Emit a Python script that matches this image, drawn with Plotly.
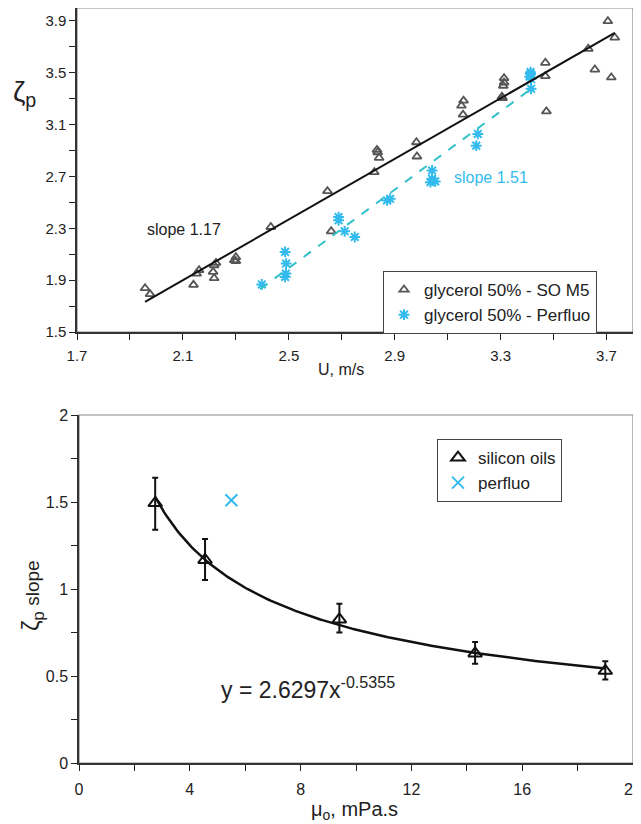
import numpy as np
import plotly.graph_objects as go

# ---------------- data (top panel) ----------------
so_u = [1.957, 1.976, 2.140, 2.152, 2.161, 2.214, 2.218, 2.218, 2.225, 2.294, 2.300, 2.300,
        2.432, 2.646, 2.660, 2.823, 2.833, 2.836, 2.841, 2.982, 2.984, 3.152, 3.158, 3.160,
        3.305, 3.307, 3.310, 3.313, 3.313, 3.469, 3.469, 3.473, 3.631, 3.656, 3.705, 3.718, 3.731]
so_zeta = [1.838, 1.792, 1.864, 1.950, 1.977, 1.964, 1.915, 2.015, 2.033, 2.054, 2.047, 2.077,
           2.310, 2.587, 2.277, 2.733, 2.905, 2.887, 2.844, 2.964, 2.854, 3.246, 3.177, 3.285,
           3.315, 3.305, 3.400, 3.425, 3.459, 3.577, 3.474, 3.202, 3.685, 3.525, 3.898, 3.464, 3.772]

pf_u = [2.398, 2.486, 2.490, 2.489, 2.486, 2.688, 2.688, 2.711, 2.749, 2.871, 2.883,
        3.041, 3.041, 3.053, 3.035, 3.214, 3.208, 3.413, 3.413, 3.415, 3.415, 3.410]
pf_zeta = [1.867, 2.118, 2.028, 1.951, 1.925, 2.387, 2.362, 2.277, 2.233, 2.515, 2.528,
           2.746, 2.682, 2.662, 2.656, 3.028, 2.938, 3.505, 3.490, 3.452, 3.377, 3.470]

so_slope, so_icpt = 1.17, -0.557
pf_slope, pf_icpt = 1.51, -1.781

# ---------------- data (bottom panel) ----------------
mu = [2.75, 4.55, 9.4, 14.3, 19.0]
slope_vals = [1.494, 1.167, 0.825, 0.630, 0.530]
err_plus = [0.146, 0.120, 0.090, 0.065, 0.055]
err_minus = [0.154, 0.115, 0.075, 0.060, 0.050]
perfluo_mu = [5.5]
perfluo_slope = [1.51]
fit_a, fit_b = 2.6297, -0.5355

# page has an 8px body margin: lay out in a 633x816 figure offset by 8px
OFF = 8
W, H = 641 - OFF, 824 - OFF
def px(x):
    return (x - OFF) / W
def py(y):
    return 1 - (y - OFF) / H

FONT = "Liberation Sans, Arial, Helvetica, sans-serif"
DARK = "#555555"
CYAN = "#33bbee"
TEAL = "#33c0c8"

fig = go.Figure()

# top panel
fig.add_trace(go.Scatter(x=so_u, y=so_zeta, mode="markers", name="glycerol 50% - SO M5",
                         marker=dict(symbol="triangle-up-open", size=8, color=DARK,
                                     line=dict(width=1.8, color=DARK)),
                         xaxis="x", yaxis="y", legend="legend"))
fig.add_trace(go.Scatter(x=pf_u, y=pf_zeta, mode="markers", name="glycerol 50% - Perfluo",
                         marker=dict(symbol="asterisk-open", size=9, color=CYAN,
                                     line=dict(width=2, color=CYAN)),
                         xaxis="x", yaxis="y", legend="legend"))
xs = [min(so_u), max(so_u)]
fig.add_trace(go.Scatter(x=xs, y=[so_slope * v + so_icpt for v in xs], mode="lines",
                         line=dict(color="#111111", width=2), showlegend=False,
                         xaxis="x", yaxis="y", hoverinfo="skip"))
xp = [min(pf_u) - 0.006, max(pf_u) + 0.003]
fig.add_trace(go.Scatter(x=xp, y=[pf_slope * v + pf_icpt for v in xp], mode="lines",
                         line=dict(color=TEAL, width=2, dash="dash"), showlegend=False,
                         xaxis="x", yaxis="y", hoverinfo="skip"))

# bottom panel
xc = np.linspace(mu[0], mu[-1], 200)
fig.add_trace(go.Scatter(x=xc, y=fit_a * xc ** fit_b, mode="lines",
                         line=dict(color="#111111", width=2.5), showlegend=False,
                         xaxis="x2", yaxis="y2", hoverinfo="skip"))
fig.add_trace(go.Scatter(x=mu, y=slope_vals, mode="markers", name="silicon oils",
                         marker=dict(symbol="triangle-up-open", size=12, color="#111111",
                                     line=dict(width=2, color="#111111")),
                         error_y=dict(type="data", symmetric=False, array=err_plus,
                                      arrayminus=err_minus, color="#111111",
                                      thickness=2, width=3),
                         xaxis="x2", yaxis="y2", legend="legend2"))
fig.add_trace(go.Scatter(x=perfluo_mu, y=perfluo_slope, mode="markers", name="perfluo",
                         marker=dict(symbol="x-thin-open", size=12, color=CYAN,
                                     line=dict(width=2, color=CYAN)),
                         xaxis="x2", yaxis="y2", legend="legend2"))

tickfont = dict(family=FONT, size=15, color="#222222")
tickfont2 = dict(family=FONT, size=16, color="#222222")

def ann(text, x, y, size, color="#222", **kw):
    d = dict(text=text, x=px(x), y=py(y), xref="paper", yref="paper",
             xanchor="center", yanchor="middle", showarrow=False,
             font=dict(family=FONT, size=size, color=color))
    d.update(kw)
    return d

fig.update_layout(
    width=W, height=H,
    margin=dict(l=0, r=0, t=0, b=0, autoexpand=False),
    paper_bgcolor="white", plot_bgcolor="white",
    font=dict(family=FONT, color="#222222"),
    xaxis=dict(domain=[px(77), px(633)], range=[1.7, 3.8], tick0=1.7, dtick=0.4,
               tickformat=".1f", ticks="outside", ticklen=6, tickcolor="#222",
               showline=True, linecolor="#333", linewidth=1.5, showgrid=False,
               zeroline=False, tickfont=tickfont, anchor="y", automargin=False,
               ticklabelstandoff=3,
               minor=dict(dtick=0.2, tick0=1.7, ticks="outside", ticklen=6,
                          tickcolor="#222", showgrid=False)),
    yaxis=dict(domain=[py(332), py(8)], range=[1.5, 4.0], tick0=1.5, dtick=0.4,
               tickformat=".1f", ticks="outside", ticklen=6, tickcolor="#222",
               showline=True, linecolor="#333", linewidth=1.5, showgrid=False,
               zeroline=False, tickfont=tickfont, anchor="x", automargin=False,
               minor=dict(dtick=0.2, tick0=1.5, ticks="outside", ticklen=6,
                          tickcolor="#222", showgrid=False)),
    xaxis2=dict(domain=[px(79), px(633)], range=[0, 20], tick0=0, dtick=4,
                ticks="outside", ticklen=6, tickcolor="#222",
                showline=True, linecolor="#333", linewidth=1.5, showgrid=False,
                zeroline=False, tickfont=tickfont2, anchor="y2", automargin=False,
                ticklabelstandoff=5, ticklabeloverflow="allow",
                minor=dict(dtick=2, ticks="outside", ticklen=6, tickcolor="#222",
                           showgrid=False)),
    yaxis2=dict(domain=[py(763), py(415)], range=[0, 2], tick0=0, dtick=0.5,
                ticks="outside", ticklen=6, tickcolor="#222",
                showline=True, linecolor="#333", linewidth=1.5, showgrid=False,
                zeroline=False, tickfont=tickfont2, anchor="x2", automargin=False,
                minor=dict(dtick=0.25, ticks="outside", ticklen=6, tickcolor="#222",
                           showgrid=False)),
    legend=dict(x=px(383), y=py(271), xanchor="left", yanchor="top",
                bordercolor="#444", borderwidth=1, bgcolor="white",
                font=dict(family=FONT, size=17, color="#222"),
                itemwidth=30, tracegroupgap=0),
    legend2=dict(x=px(437), y=py(439), xanchor="left", yanchor="top",
                 bordercolor="#444", borderwidth=1, bgcolor="white",
                 font=dict(family=FONT, size=17, color="#222"),
                 itemwidth=30, tracegroupgap=0),
    shapes=[
        dict(type="rect", xref="x domain", yref="y domain", x0=0, x1=1, y0=0, y1=1,
             line=dict(color="#888", width=1.2), layer="below"),
        dict(type="rect", xref="x2 domain", yref="y2 domain", x0=0, x1=1, y0=0, y1=1,
             line=dict(color="#888", width=1.2), layer="below"),
    ],
    annotations=[
        ann("ζ<sub>p</sub>", 24, 94, 28),
        ann("U, m/s", 341, 369, 16),
        ann("slope 1.17", 184, 230, 16),
        ann("slope 1.51", 491, 177, 16, color=CYAN),
        ann("<span style='font-size:24px'>ζ<sub>p</sub></span> slope", 32, 596, 19,
            textangle=-90),
        ann("μ<sub>o</sub>, mPa.s", 354, 810, 20),
        ann("y = 2.6297x<sup>-0.5355</sup>", 219, 688, 23, xanchor="left"),
    ],
)

fig.write_html("out.html")
